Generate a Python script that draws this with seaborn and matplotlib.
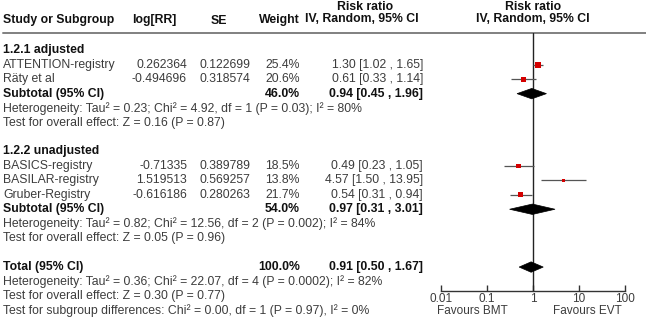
import pandas as pd
import seaborn as sns
import matplotlib.pyplot as plt
from matplotlib.patches import Polygon
from matplotlib.ticker import NullLocator

# 資料
group_titles = ['1.2.1 adjusted', '1.2.2 unadjusted']
studies = ['ATTENTION-registry', 'Räty et al', 'BASICS-registry', 'BASILAR-registry', 'Gruber-Registry']
study_group = [0, 0, 1, 1, 1]
log_rr = ['0.262364', '-0.494696', '-0.71335', '1.519513', '-0.616186']
se = ['0.122699', '0.318574', '0.389789', '0.569257', '0.280263']
weight = [25.4, 20.6, 18.5, 13.8, 21.7]
rr = [1.30, 0.61, 0.49, 4.57, 0.54]
ci_lo = [1.02, 0.33, 0.23, 1.50, 0.31]
ci_hi = [1.65, 1.14, 1.05, 13.95, 0.94]

sub_weight = [46.0, 54.0]
sub_rr = [0.94, 0.97]
sub_lo = [0.45, 0.31]
sub_hi = [1.96, 3.01]
sub_het = ['Heterogeneity: Tau² = 0.23; Chi² = 4.92, df = 1 (P = 0.03); I² = 80%',
           'Heterogeneity: Tau² = 0.82; Chi² = 12.56, df = 2 (P = 0.002); I² = 84%']
sub_test = ['Test for overall effect: Z = 0.16 (P = 0.87)',
            'Test for overall effect: Z = 0.05 (P = 0.96)']

total_weight = 100.0
total_rr, total_lo, total_hi = 0.91, 0.50, 1.67
total_notes = ['Heterogeneity: Tau² = 0.36; Chi² = 22.07, df = 4 (P = 0.0002); I² = 82%',
               'Test for overall effect: Z = 0.30 (P = 0.77)',
               'Test for subgroup differences: Chi² = 0.00, df = 1 (P = 0.97), I² = 0%']

x_ticks = [0.01, 0.1, 1, 10, 100]
tick_labels = ['0.01', '0.1', '1', '10', '100']
favours = ['Favours BMT', 'Favours EVT']

sns.set_style('white')
plt.rcParams['font.family'] = ['Liberation Sans', 'DejaVu Sans']
FS = 8.8
GREY = '#3c3c3c'
BLACK = '#111111'

# 列位置 (row layout)
study_rows, sub_rows, title_rows, het_rows, test_rows = [], [], [], [], []
r = 0
for g in range(2):
    title_rows.append(r); r += 1
    for i, sg in enumerate(study_group):
        if sg == g:
            study_rows.append(r); r += 1
    sub_rows.append(r); r += 1
    het_rows.append(r); r += 1
    test_rows.append(r); r += 2
total_row = r
note_rows = [r + 1, r + 2, r + 3]

Y0, DY = 50.3, 14.45
def ypx(row):
    return Y0 + DY * row

fig = plt.figure(figsize=(6.46, 3.19), dpi=100)
bg = fig.add_axes([0, 0, 1, 1])
bg.set_xlim(0, 646)
bg.set_ylim(319, 0)
bg.axis('off')

# 標題列 (header)
bg.text(3, 20.5, 'Study or Subgroup', fontsize=FS, fontweight='bold', color=BLACK, va='center')
bg.text(154, 20.5, 'log[RR]', fontsize=FS, fontweight='bold', color=BLACK, va='center', ha='center')
bg.text(219, 20.5, 'SE', fontsize=FS, fontweight='bold', color=BLACK, va='center', ha='center')
bg.text(300, 20.5, 'Weight', fontsize=FS, fontweight='bold', color=BLACK, va='center', ha='right')
bg.text(365, 7, 'Risk ratio', fontsize=FS, fontweight='bold', color=BLACK, va='center', ha='center')
bg.text(362, 19.5, 'IV, Random, 95% CI', fontsize=FS, fontweight='bold', color=BLACK, va='center', ha='center')
bg.text(533, 7, 'Risk ratio', fontsize=FS, fontweight='bold', color=BLACK, va='center', ha='center')
bg.text(533, 19.5, 'IV, Random, 95% CI', fontsize=FS, fontweight='bold', color=BLACK, va='center', ha='center')
bg.plot([3, 646], [33.3, 33.3], color='#808080', lw=1.4)

for g in range(2):
    bg.text(3, ypx(title_rows[g]), group_titles[g], fontsize=FS, fontweight='bold', color=BLACK, va='center')
    bg.text(3, ypx(sub_rows[g]), 'Subtotal (95% CI)', fontsize=FS, fontweight='bold', color=BLACK, va='center')
    bg.text(300, ypx(sub_rows[g]), f'{sub_weight[g]:.1f}%', fontsize=FS, fontweight='bold', color=BLACK, va='center', ha='right')
    bg.text(423, ypx(sub_rows[g]), f'{sub_rr[g]:.2f} [{sub_lo[g]:.2f} , {sub_hi[g]:.2f}]',
            fontsize=FS, fontweight='bold', color=BLACK, va='center', ha='right')
    bg.text(3, ypx(het_rows[g]), sub_het[g], fontsize=FS, color=GREY, va='center')
    bg.text(3, ypx(test_rows[g]), sub_test[g], fontsize=FS, color=GREY, va='center')

for i, row in enumerate(study_rows):
    y = ypx(row)
    bg.text(3, y, studies[i], fontsize=FS, color=GREY, va='center')
    bg.text(187, y, log_rr[i], fontsize=FS, color=GREY, va='center', ha='right')
    bg.text(250, y, se[i], fontsize=FS, color=GREY, va='center', ha='right')
    bg.text(300, y, f'{weight[i]:.1f}%', fontsize=FS, color=GREY, va='center', ha='right')
    bg.text(423, y, f'{rr[i]:.2f} [{ci_lo[i]:.2f} , {ci_hi[i]:.2f}]', fontsize=FS, color=GREY, va='center', ha='right')

bg.text(3, ypx(total_row), 'Total (95% CI)', fontsize=FS, fontweight='bold', color=BLACK, va='center')
bg.text(300, ypx(total_row), f'{total_weight:.1f}%', fontsize=FS, fontweight='bold', color=BLACK, va='center', ha='right')
bg.text(423, ypx(total_row), f'{total_rr:.2f} [{total_lo:.2f} , {total_hi:.2f}]',
        fontsize=FS, fontweight='bold', color=BLACK, va='center', ha='right')
for row, note in zip(note_rows, total_notes):
    bg.text(3, ypx(row), note, fontsize=FS, color=GREY, va='center')

# 森林圖 (forest panel)
top_px, bot_px = 33.3, 291
ax = fig.add_axes([441 / 646, (319 - bot_px) / 319, 184 / 646, (bot_px - top_px) / 319])
ax.set_xscale('log')

df = pd.DataFrame({'rr': rr, 'row': study_rows, 'weight': weight})
ax.hlines(study_rows, ci_lo, ci_hi, color='#555555', lw=0.9, zorder=2)
sns.scatterplot(data=df, x='rr', y='row', size='weight', sizes=(7, 18), marker='s',
                color='#d40000', linewidth=0, legend=False, ax=ax, zorder=3)

h = 0.36
for est, lo, hi, row in zip(sub_rr + [total_rr], sub_lo + [total_lo], sub_hi + [total_hi], sub_rows + [total_row]):
    ax.add_patch(Polygon([[lo, row], [est, row - h], [hi, row], [est, row + h]],
                         closed=True, facecolor='black', edgecolor='black', lw=0.5, zorder=3))

ax.axvline(1, color='#222222', lw=1, zorder=1)
ax.set_xlim(0.01, 100)
ax.set_ylim((bot_px - Y0) / DY, (top_px - Y0) / DY)
ax.set_xticks(x_ticks)
ax.set_xticklabels(tick_labels)
ax.xaxis.set_minor_locator(NullLocator())
ax.set_yticks([])
ax.set_xlabel('')
ax.set_ylabel('')
for s in ['left', 'right', 'top']:
    ax.spines[s].set_visible(False)
ax.spines['bottom'].set_color('#333333')
ax.spines['bottom'].set_linewidth(1)
ax.tick_params(axis='x', direction='in', length=4, width=1, color='#333333',
               pad=1.2, labelsize=FS - 0.3, labelcolor=GREY, bottom=True)
ax.patch.set_alpha(0)

bg.text(472, 311.5, favours[0], fontsize=FS - 0.3, color=GREY, va='center', ha='center')
bg.text(587, 311.5, favours[1], fontsize=FS - 0.3, color=GREY, va='center', ha='center')

plt.savefig('out.png', dpi=100)
